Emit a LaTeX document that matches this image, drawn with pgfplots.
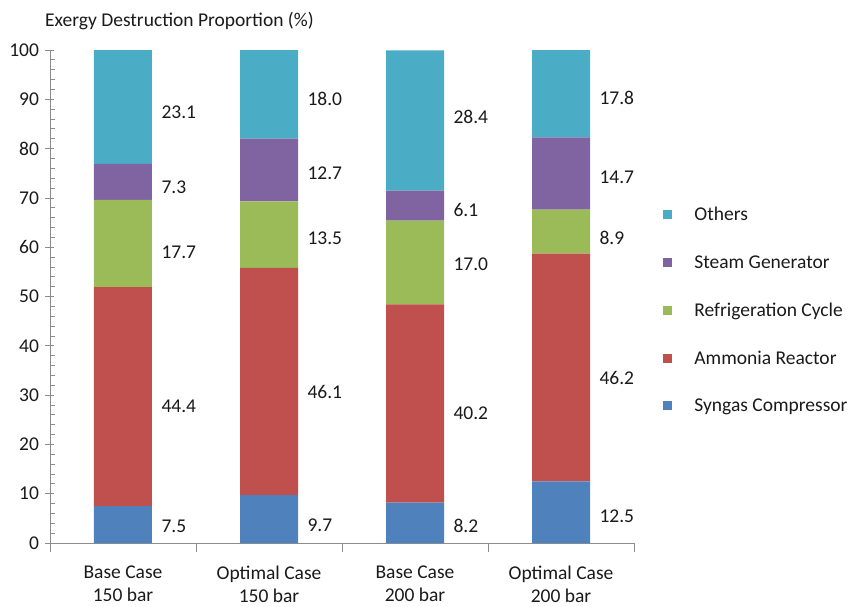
\documentclass[border=0pt]{standalone}
\usepackage{fontspec}
\setmainfont{Carlito}
\usepackage{pgfplots}
\usepackage{pgfplotstable}
\pgfplotsset{compat=1.18}

\definecolor{cSC}{HTML}{4F81BD}
\definecolor{cAR}{HTML}{C0504D}
\definecolor{cRC}{HTML}{9BBB59}
\definecolor{cSG}{HTML}{8064A2}
\definecolor{cOT}{HTML}{4BACC6}
\definecolor{axisgray}{HTML}{8C8C8C}
\definecolor{txt}{HTML}{1A1A1A}

% exergy destruction shares (%) per case
\pgfplotstableread{
x sc ar rc sg ot
0 7.5 44.4 17.7 7.3 23.1
1 9.7 46.1 13.5 12.7 18.0
2 8.2 40.2 17.0 6.1 28.4
3 12.5 46.2 8.9 14.7 17.8
}\exergy

% data labels: case, label height, value shown
\pgfplotstableread{
x pos val
0 3.45 7.5
0 27.8 44.4
0 59.0 17.7
0 72.2 7.3
0 87.4 23.1
1 3.65 9.7
1 30.6 46.1
1 61.9 13.5
1 74.9 12.7
1 90.1 18.0
2 3.45 8.2
2 26.4 40.2
2 56.6 17.0
2 67.6 6.1
2 86.4 28.4
3 5.5 12.5
3 33.5 46.2
3 61.9 8.9
3 74.2 14.7
3 90.3 17.8
}\labels

\newcommand\chartfont{\fontsize{19.5}{23}\selectfont}

\begin{document}
\begin{tikzpicture}[font=\chartfont, text=txt]
\pgfplotsset{base/.style={width=584pt, height=493pt, scale only axis,
  xmin=-0.5, xmax=3.5, ymin=0, ymax=100, enlargelimits=false}}

\begin{axis}[base, name=ax,
  ybar stacked, bar width=58pt,
  axis x line*=bottom, axis y line*=left,
  axis line style={draw=axisgray, line width=0.8pt},
  tick style={draw=axisgray, line width=0.8pt},
  ytick={0,10,...,100}, minor y tick num=4,
  ytick align=center, xtick align=outside,
  major tick length=9pt, minor tick length=5pt,
  minor tick style={xshift=2.5pt},
  xtick={-0.5,0.5,1.5,2.5,3.5}, xticklabels={},
  extra x ticks={0,1,2,3},
  extra x tick labels={Base Case\\150 bar, Optimal Case\\150 bar, Base Case\\200 bar, Optimal Case\\200 bar},
  extra x tick style={major tick length=0pt,
    tick label style={align=center, yshift=-19.5pt}},
  yticklabel style={xshift=-3pt},
  /pgf/number format/assume math mode=true,
  ticklabel style={font=\chartfont, text=txt},
  reverse legend,
  legend image code/.code={\fill[#1, draw=none] (0pt,-4.5pt) rectangle (9pt,4.5pt);
    \path (29pt,0pt);},
  legend style={at={(1.05,0.4726)}, anchor=west, draw=none, fill=none,
    inner sep=0pt, row sep=29pt, font=\chartfont,
    nodes={text=txt, inner sep=2pt}},
  legend cell align=left,
]
\addplot[fill=cSC, draw=none] table[x=x, y=sc] {\exergy};
\addplot[fill=cAR, draw=none] table[x=x, y=ar] {\exergy};
\addplot[fill=cRC, draw=none] table[x=x, y=rc] {\exergy};
\addplot[fill=cSG, draw=none] table[x=x, y=sg] {\exergy};
\addplot[fill=cOT, draw=none] table[x=x, y=ot] {\exergy};
\legend{Syngas Compressor, Ammonia Reactor, Refrigeration Cycle, Steam Generator, Others}
\end{axis}

\node[anchor=base west, inner sep=0pt, xshift=-5pt, yshift=23pt] at (ax.north west)
  {Exergy Destruction Proportion (\%)};

% value labels beside each segment
\begin{axis}[base, hide axis,
  point meta=explicit symbolic, nodes near coords,
  every node near coord/.style={anchor=west, xshift=35pt, text=txt, font=\chartfont},
]
\addplot[draw=none, mark=none] table[x=x, y=pos, meta=val] {\labels};
\end{axis}

\pgfresetboundingbox
\path[use as bounding box] ([shift={(-50pt,-63pt)}]ax.south west) rectangle ([shift={(217pt,50pt)}]ax.north east);
\end{tikzpicture}
\end{document}
